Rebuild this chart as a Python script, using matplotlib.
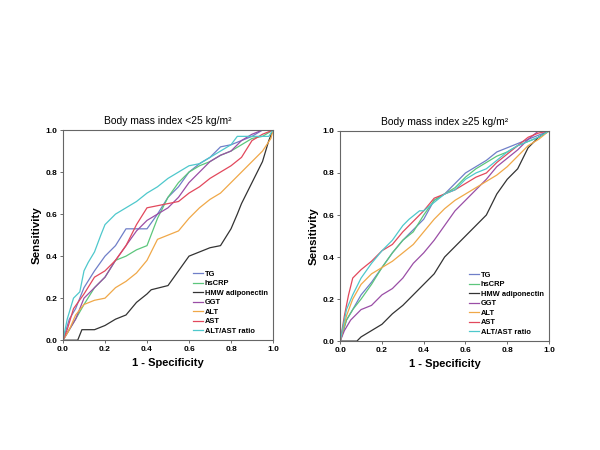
import matplotlib
matplotlib.use("Agg")
import matplotlib.pyplot as plt

plt.rcParams['font.family'] = ['Liberation Sans', 'DejaVu Sans']

series_names = ["TG", "hsCRP", "HMW adiponectin", "GGT", "ALT", "AST", "ALT/AST ratio"]
colors = ["#6f7fc8", "#5cc67c", "#333333", "#9a4ea6", "#f0a848", "#e2485c", "#4ec8cc"]
titles = ["Body mass index <25 kg/m\u00b2", "Body mass index \u226525 kg/m\u00b2"]

# Left panel (BMI < 25)
left_TG = [(0,0),(0.03,0.1),(0.06,0.15),(0.1,0.25),(0.15,0.33),(0.2,0.4),(0.25,0.45),(0.3,0.53),(0.35,0.53),(0.4,0.53),(0.45,0.6),(0.5,0.68),(0.55,0.73),(0.6,0.8),(0.65,0.84),(0.7,0.87),(0.75,0.92),(0.8,0.93),(0.85,0.95),(0.9,0.97),(0.95,1.0),(1,1)]
left_hsCRP = [(0,0),(0.03,0.05),(0.06,0.1),(0.1,0.17),(0.15,0.25),(0.2,0.3),(0.25,0.38),(0.3,0.4),(0.35,0.43),(0.4,0.45),(0.45,0.58),(0.5,0.68),(0.55,0.75),(0.6,0.8),(0.65,0.83),(0.7,0.85),(0.75,0.88),(0.8,0.9),(0.85,0.93),(0.9,0.96),(0.95,0.97),(1,1)]
left_HMW = [(0,0),(0.07,0),(0.09,0.05),(0.15,0.05),(0.2,0.07),(0.25,0.1),(0.3,0.12),(0.35,0.18),(0.4,0.22),(0.42,0.24),(0.5,0.26),(0.55,0.33),(0.6,0.4),(0.65,0.42),(0.7,0.44),(0.75,0.45),(0.8,0.53),(0.83,0.6),(0.85,0.65),(0.9,0.75),(0.95,0.85),(0.98,0.95),(1,1)]
left_GGT = [(0,0),(0.03,0.05),(0.06,0.1),(0.1,0.2),(0.15,0.25),(0.2,0.3),(0.25,0.38),(0.3,0.45),(0.35,0.52),(0.4,0.57),(0.45,0.6),(0.5,0.63),(0.55,0.68),(0.6,0.75),(0.65,0.8),(0.7,0.85),(0.75,0.88),(0.8,0.9),(0.85,0.95),(0.9,0.98),(0.95,1.0),(1,1)]
left_ALT = [(0,0),(0.03,0.05),(0.06,0.12),(0.1,0.17),(0.15,0.19),(0.2,0.2),(0.25,0.25),(0.3,0.28),(0.35,0.32),(0.4,0.38),(0.45,0.48),(0.5,0.5),(0.55,0.52),(0.6,0.58),(0.65,0.63),(0.7,0.67),(0.75,0.7),(0.8,0.75),(0.85,0.8),(0.9,0.85),(0.95,0.9),(0.99,0.96),(1,1)]
left_AST = [(0,0),(0.02,0.05),(0.05,0.15),(0.1,0.22),(0.15,0.3),(0.2,0.33),(0.25,0.38),(0.3,0.45),(0.35,0.55),(0.4,0.63),(0.45,0.64),(0.5,0.65),(0.55,0.66),(0.6,0.7),(0.65,0.73),(0.7,0.77),(0.75,0.8),(0.8,0.83),(0.85,0.87),(0.9,0.95),(0.95,0.98),(1,1)]
left_RATIO = [(0,0),(0.02,0.1),(0.05,0.2),(0.08,0.23),(0.1,0.33),(0.12,0.37),(0.15,0.42),(0.18,0.5),(0.2,0.55),(0.25,0.6),(0.3,0.63),(0.35,0.66),(0.4,0.7),(0.45,0.73),(0.5,0.77),(0.55,0.8),(0.6,0.83),(0.65,0.84),(0.7,0.87),(0.75,0.9),(0.8,0.93),(0.83,0.97),(0.98,0.97),(1,1)]

# Right panel (BMI >= 25)
right_TG = [(0,0),(0.03,0.1),(0.06,0.15),(0.1,0.22),(0.15,0.28),(0.2,0.35),(0.25,0.42),(0.3,0.48),(0.35,0.53),(0.4,0.58),(0.45,0.67),(0.5,0.7),(0.55,0.75),(0.6,0.8),(0.65,0.83),(0.7,0.86),(0.75,0.9),(0.8,0.92),(0.85,0.94),(0.9,0.96),(0.95,0.98),(1,1)]
right_hsCRP = [(0,0),(0.03,0.1),(0.06,0.15),(0.1,0.2),(0.15,0.27),(0.2,0.35),(0.25,0.42),(0.3,0.48),(0.35,0.52),(0.4,0.6),(0.45,0.67),(0.5,0.7),(0.55,0.73),(0.6,0.78),(0.65,0.82),(0.7,0.85),(0.75,0.88),(0.8,0.9),(0.85,0.93),(0.9,0.95),(0.95,0.97),(1,1)]
right_HMW = [(0,0),(0.08,0),(0.1,0.02),(0.15,0.05),(0.2,0.08),(0.25,0.13),(0.3,0.17),(0.35,0.22),(0.4,0.27),(0.45,0.32),(0.5,0.4),(0.55,0.45),(0.6,0.5),(0.65,0.55),(0.7,0.6),(0.75,0.7),(0.8,0.77),(0.85,0.82),(0.9,0.92),(0.95,0.97),(1,1)]
right_GGT = [(0,0),(0.02,0.05),(0.05,0.1),(0.08,0.13),(0.1,0.15),(0.15,0.17),(0.2,0.22),(0.25,0.25),(0.3,0.3),(0.35,0.37),(0.4,0.42),(0.45,0.48),(0.5,0.55),(0.55,0.62),(0.6,0.67),(0.65,0.72),(0.7,0.77),(0.75,0.83),(0.8,0.87),(0.85,0.91),(0.9,0.96),(0.95,1.0),(1,1)]
right_ALT = [(0,0),(0.03,0.12),(0.06,0.2),(0.1,0.27),(0.15,0.32),(0.2,0.35),(0.25,0.38),(0.3,0.42),(0.35,0.46),(0.4,0.52),(0.45,0.58),(0.5,0.63),(0.55,0.67),(0.6,0.7),(0.65,0.73),(0.7,0.76),(0.75,0.79),(0.8,0.83),(0.85,0.88),(0.9,0.93),(0.95,0.96),(1,1)]
right_AST = [(0,0),(0.02,0.12),(0.04,0.22),(0.06,0.3),(0.1,0.34),(0.15,0.38),(0.2,0.43),(0.25,0.46),(0.3,0.52),(0.35,0.57),(0.4,0.62),(0.45,0.68),(0.5,0.7),(0.55,0.72),(0.6,0.75),(0.65,0.78),(0.7,0.8),(0.75,0.85),(0.8,0.89),(0.85,0.93),(0.9,0.97),(0.95,0.99),(1,1)]
right_RATIO = [(0,0),(0.03,0.15),(0.06,0.22),(0.1,0.3),(0.15,0.37),(0.2,0.43),(0.25,0.48),(0.3,0.55),(0.33,0.58),(0.38,0.62),(0.4,0.62),(0.45,0.66),(0.5,0.7),(0.55,0.72),(0.6,0.77),(0.65,0.8),(0.7,0.82),(0.75,0.86),(0.8,0.9),(0.85,0.93),(0.9,0.95),(0.95,0.97),(1,1)]

panels = [
    [left_TG, left_hsCRP, left_HMW, left_GGT, left_ALT, left_AST, left_RATIO],
    [right_TG, right_hsCRP, right_HMW, right_GGT, right_ALT, right_AST, right_RATIO],
]

ticks = [0.0, 0.2, 0.4, 0.6, 0.8, 1.0]
tick_labels = ["0.0", "0.2", "0.4", "0.6", "0.8", "1.0"]

fig = plt.figure(figsize=(6, 4.5), dpi=100)
axes_pos = [[0.105, 0.244, 0.35, 0.467], [0.567, 0.242, 0.348, 0.467]]

for pos, title, curves in zip(axes_pos, titles, panels):
    ax = fig.add_axes(pos)
    for name, col, pts in zip(series_names, colors, curves):
        xs = [p[0] for p in pts]
        ys = [p[1] for p in pts]
        ax.plot(xs, ys, color=col, lw=0.9, label=name)
    ax.set_xlim(0, 1)
    ax.set_ylim(0, 1)
    ax.set_xticks(ticks)
    ax.set_xticklabels(tick_labels, fontsize=6, fontweight='bold')
    ax.set_yticks(ticks)
    ax.set_yticklabels(tick_labels, fontsize=6, fontweight='bold')
    ax.tick_params(length=2.5, width=0.6, color='#555555', pad=1.5)
    for s in ax.spines.values():
        s.set_color('#666666')
        s.set_linewidth(0.8)
    ax.set_title(title, fontsize=7.4, pad=4)
    ax.set_xlabel("1 - Specificity", fontsize=8, fontweight='bold', labelpad=4)
    ax.set_ylabel("Sensitivity", fontsize=8.2, fontweight='bold', labelpad=3)
    ax.legend(loc='lower right', frameon=False, handlelength=1.3,
              handletextpad=0.3, labelspacing=0.3, borderaxespad=0.3,
              prop={'weight': 'bold', 'size': 5.4})

fig.savefig("out.png", dpi=100)
